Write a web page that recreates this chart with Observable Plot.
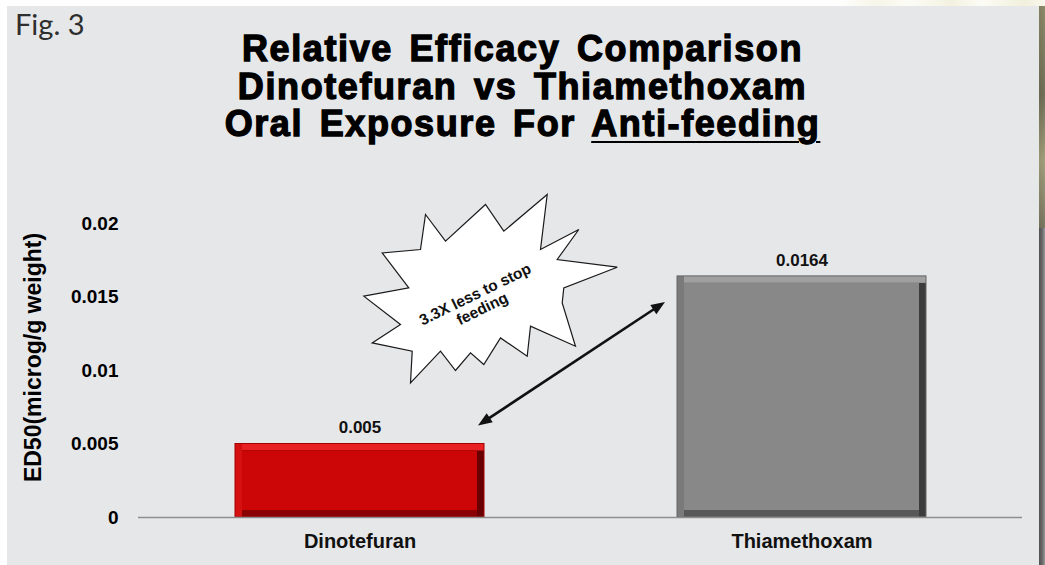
<!DOCTYPE html>
<html>
<head>
<meta charset="utf-8">
<script src="https://cdn.jsdelivr.net/npm/d3@7"></script>
<script src="https://cdn.jsdelivr.net/npm/@observablehq/plot@0.6"></script>
<style>
  html, body { margin: 0; padding: 0; }
  body { width: 1045px; height: 565px; position: relative; overflow: hidden; background: #ffffff;
         font-family: "Liberation Sans", Arial, Helvetica, sans-serif; }
  #topstrip { position: absolute; left: 0; top: 0; width: 1045px; height: 8px;
    background: linear-gradient(90deg, #fff 0%, #fff 80%, #f6f5e8 84%, #fcfcf7 87%, #f3f2e0 91%, #fcfcf6 94%, #f1f0dc 98%, #f8f7ec 100%); }
  #panel { position: absolute; left: 7px; top: 6px; width: 1032px; height: 559px; background: #e6e7e9; }
  #edge { position: absolute; left: 1039px; top: 6px; width: 6px; height: 559px;
    background: linear-gradient(90deg, #4f4f4f 0%, #6a6a6a 55%, #9a9a9a 100%); }
  #edgetop { position: absolute; left: 1039px; top: 6px; width: 6px; height: 222px;
    background: linear-gradient(180deg, #8c8a64 0%, #6d6b4e 40%, #a6a27a 70%, #77745a 100%); opacity: 0.85; }
  #fig { position: absolute; left: 15px; top: 9px; font-family: Lato, "Noto Sans", sans-serif;
    font-size: 29px; line-height: 29px; color: #2e2e2e; }
  #title { position: absolute; left: 0; top: 30px; width: 1045px; text-align: center;
    font-family: "Liberation Sans", Arial, sans-serif; font-weight: bold; font-size: 36px; line-height: 37.5px;
    letter-spacing: 1.6px; word-spacing: 5px; color: #000; -webkit-text-stroke: 1.3px #000; }
  #title u { text-decoration-thickness: 2px; text-underline-offset: 5px; }
  #chart { position: absolute; left: 0; top: 160px; }
</style>
</head>
<body>
<div id="topstrip"></div>
<div id="panel"></div>
<div id="edge"></div>
<div id="edgetop"></div>
<div id="fig"></div>
<div id="title"></div>
<div id="chart"></div>
<script>
// ---- data ----
const figLabel = "Fig. 3";
const titleLines = ["Relative Efficacy Comparison", "Dinotefuran vs Thiamethoxam", "Oral Exposure For "];
const titleUnderlined = "Anti-feeding";
const categories = ["Dinotefuran", "Thiamethoxam"];
const ed50 = [0.005, 0.0164];
const valueLabels = ["0.005", "0.0164"];
const yTicks = [0, 0.005, 0.01, 0.015, 0.02];
const yTickLabels = ["0", "0.005", "0.01", "0.015", "0.02"];
const yLabel = "ED50(microg/g weight)";
const calloutLines = ["3.3X less to stop", "feeding"];

// ---- styles ----
const bevel = {
  Dinotefuran:  { left: "#d41010", top: "#e82222", right: "#680000", bottom: "#8a0202", face: "#cc0606", edge: "#a30000" },
  Thiamethoxam: { left: "#7a7a7a", top: "#a0a0a0", right: "#3c3c3c", bottom: "#585858", face: "#888888", edge: "#666666" }
};

document.getElementById("fig").textContent = figLabel;
const titleEl = document.getElementById("title");
titleLines.forEach((t, i) => {
  const span = document.createElement("span");
  span.textContent = t;
  titleEl.appendChild(span);
  if (i < titleLines.length - 1) titleEl.appendChild(document.createElement("br"));
});
const u = document.createElement("u");
u.textContent = titleUnderlined;
titleEl.appendChild(u);

const data = categories.map((c, i) => ({ name: c, value: ed50[i], label: valueLabels[i] }));

const B = 7; // bevel width
const W = 1045, H = 405;
const chart = Plot.plot({
  width: W, height: H,
  marginLeft: 138, marginRight: 23, marginTop: 63, marginBottom: 48,
  style: { background: "none", fontFamily: "'Liberation Sans', Arial, sans-serif", color: "#000" },
  x: { domain: categories, paddingInner: 0.437, paddingOuter: 0.2185 },
  y: { domain: [0, 0.02] },
  color: { type: "identity" },
  marks: [
    Plot.barY(data, { x: "name", y: "value", fill: d => bevel[d.name].left }),
    Plot.barY(data, { x: "name", y: "value", fill: d => bevel[d.name].top, insetLeft: B }),
    Plot.barY(data, { x: "name", y: "value", fill: d => bevel[d.name].right, insetLeft: B, insetTop: B }),
    Plot.barY(data, { x: "name", y: "value", fill: d => bevel[d.name].bottom, insetLeft: B, insetTop: B, insetRight: B }),
    Plot.barY(data, { x: "name", y: "value", fill: d => bevel[d.name].face, inset: B }),
    Plot.barY(data, { x: "name", y: "value", fill: "none", stroke: d => bevel[d.name].edge, strokeWidth: 1 }),
    Plot.ruleY([0], { stroke: "#8e8e8e", strokeWidth: 1.5 }),
    Plot.text(data, { x: "name", y: "value", text: "label", dy: -16, fontSize: 17, fontWeight: "bold", fill: "#111" }),
    Plot.axisY({ ticks: yTicks, tickFormat: d => yTickLabels[yTicks.indexOf(d)], tickSize: 0, tickPadding: 20,
                 fontSize: 19, fontWeight: "bold", label: null, fill: "#000" }),
    Plot.axisX({ tickSize: 0, tickPadding: 16, fontSize: 20, fontWeight: "bold", label: null, fill: "#111" }),
    Plot.text([yLabel], { frameAnchor: "left", textAnchor: "middle", rotate: -90, dx: -105, dy: -13,
                          fontSize: 23, fontWeight: "bold", fill: "#000" })
  ]
});
document.getElementById("chart").appendChild(chart);

// ---- annotation (arrow + starburst) positioned from the plot's own scales ----
const xs = chart.scale("x"), ys = chart.scale("y");
const bw = xs.bandwidth;
const bar1Right = xs.apply(categories[0]) + bw, bar1Top = ys.apply(ed50[0]);
const bar2Left = xs.apply(categories[1]), bar2Top = ys.apply(ed50[1]);
const sx = bar1Right - 6, sy = bar1Top - 18;
const ex = bar2Left - 12, ey = bar2Top + 26;

const svg = d3.select(chart);
const g = svg.append("g").attr("class", "annotation");
const ang = Math.atan2(ey - sy, ex - sx);
const headL = 14, headW = 5.5;
const ux = Math.cos(ang), uy = Math.sin(ang);
g.append("line")
  .attr("x1", sx + ux * (headL - 2)).attr("y1", sy + uy * (headL - 2))
  .attr("x2", ex - ux * (headL - 2)).attr("y2", ey - uy * (headL - 2))
  .attr("stroke", "#111").attr("stroke-width", 2.6);
function head(tx, ty, dir) {
  const bx = tx - dir * ux * headL, by = ty - dir * uy * headL;
  const px = -uy * headW, py = ux * headW;
  g.append("path")
    .attr("d", `M${tx},${ty}L${bx + px},${by + py}L${bx - px},${by - py}Z`)
    .attr("fill", "#111");
}
head(ex, ey, 1);
head(sx, sy, -1);

// starburst
const cx = (sx + ex) / 2 - 81, cy = (sy + ey) / 2 - 75.5;
const star = [[-65,-73.7],[-45,-47],[-5,-83.7],[13.3,-57],[56.7,-93.7],[50,-38.7],[88.3,-58.7],[66.7,-28.7],
  [126.7,-21],[73.3,-0.3],[71.7,14.7],[85,58],[40,38],[36.7,68],[10,49.7],[-6.7,76.3],[-20,64.7],[-35,82.3],
  [-50,63],[-80,94.7],[-78.3,63],[-118.3,54.7],[-90,36.3],[-126.7,8],[-81.7,-0.3],[-108.3,-35.3],[-70,-38.7]];
g.append("path")
  .attr("d", "M" + star.map(([a, b]) => `${cx + a},${cy + b}`).join("L") + "Z")
  .attr("fill", "#ffffff").attr("stroke", "#1a1a1a").attr("stroke-width", 1.2).attr("stroke-linejoin", "miter");
const tg = g.append("g").attr("transform", `translate(${cx - 12},${cy + 13}) rotate(-26)`);
calloutLines.forEach((t, i) => {
  tg.append("text").attr("x", 0).attr("y", (i - (calloutLines.length - 1) / 2) * 16)
    .attr("text-anchor", "middle").attr("dominant-baseline", "central")
    .attr("font-family", "'Liberation Sans', Arial, sans-serif").attr("font-weight", "bold")
    .attr("font-size", 15.5).attr("fill", "#111").text(t);
});
</script>
</body>
</html>
